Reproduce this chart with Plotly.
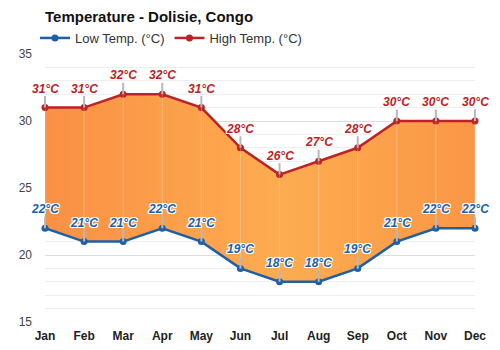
import plotly.graph_objects as go

months = ["Jan", "Feb", "Mar", "Apr", "May", "Jun", "Jul", "Aug", "Sep", "Oct", "Nov", "Dec"]
low_temp = [22, 21, 21, 22, 21, 19, 18, 18, 19, 21, 22, 22]
high_temp = [31, 31, 32, 32, 31, 28, 26, 27, 28, 30, 30, 30]
y_ticks = [15, 20, 25, 30, 35]

LOW_COLOR = "#1f5fa6"
HIGH_COLOR = "#bd2226"
FONT = "Liberation Sans, Arial, sans-serif"

x_idx = list(range(len(months)))

fig = go.Figure()

# light month dividers inside the band between low and high
seg_x, seg_y = [], []
for i, lo, hi in zip(x_idx, low_temp, high_temp):
    seg_x += [i, i, None]
    seg_y += [lo, hi, None]

fig.add_trace(go.Scatter(
    x=x_idx, y=low_temp, mode="lines+markers", name="Low Temp. (°C)",
    line=dict(color=LOW_COLOR, width=2.5),
    marker=dict(color=LOW_COLOR, size=7),
    cliponaxis=False, hoverinfo="skip", showlegend=False,
))
fig.add_trace(go.Scatter(
    x=x_idx, y=high_temp, mode="lines+markers", name="High Temp. (°C)",
    line=dict(color=HIGH_COLOR, width=2.5),
    marker=dict(color=HIGH_COLOR, size=7),
    fill="tonexty",
    fillgradient=dict(type="horizontal",
                      colorscale=[[0, "#fa9044"], [0.55, "#fdac50"], [1, "#fa9646"]]),
    cliponaxis=False, hoverinfo="skip", showlegend=False,
))
fig.add_trace(go.Scatter(
    x=seg_x, y=seg_y, mode="lines", showlegend=False,
    line=dict(color="rgba(255,255,255,0.25)", width=1),
    hoverinfo="skip",
))

# legend entries (line + marker only)
for name, color in (("Low Temp. (°C)", LOW_COLOR), ("High Temp. (°C)", HIGH_COLOR)):
    fig.add_trace(go.Scatter(
        x=[None], y=[None], mode="lines+markers", name=name,
        line=dict(color=color, width=2.5), marker=dict(color=color, size=7),
    ))

halo = ("1px 1px 0 #fff, -1px -1px 0 #fff, 1px -1px 0 #fff, -1px 1px 0 #fff, "
        "0 1px 0 #fff, 0 -1px 0 #fff, 1px 0 0 #fff, -1px 0 0 #fff")

annotations = []
for vals, color in ((high_temp, HIGH_COLOR), (low_temp, LOW_COLOR)):
    for i, v in zip(x_idx, vals):
        annotations.append(dict(
            x=i, y=v, xref="x", yref="y", text=f"{v}°C",
            showarrow=True, arrowhead=0, arrowwidth=2, arrowcolor="#b8b8b8",
            ax=0, ay=-19, standoff=0, borderpad=0,
            font=dict(family=FONT, size=12, color=color, weight="bold",
                      style="italic", shadow=halo),
        ))

fig.update_layout(
    width=500, height=350,
    margin=dict(l=45, r=25, t=54, b=28, autoexpand=False),
    paper_bgcolor="white", plot_bgcolor="white",
    title=dict(text="<b>Temperature - Dolisie, Congo</b>", x=45 / 500, xanchor="left",
               y=1 - 17 / 350, yanchor="middle",
               font=dict(family=FONT, size=15, color="#111")),
    legend=dict(orientation="h", x=35 / 500, xanchor="left", xref="container",
                y=1 - 38 / 350, yanchor="middle", yref="container",
                font=dict(family=FONT, size=13, color="#333"),
                itemwidth=30, traceorder="normal", tracegroupgap=0),
    showlegend=True,
    annotations=annotations,
    xaxis=dict(range=[0, 11], tickvals=x_idx, ticktext=months, showgrid=False,
               zeroline=False, showline=False, ticks="", ticklabelstandoff=5,
               tickfont=dict(family=FONT, size=12, color="#222", weight="bold")),
    yaxis=dict(range=[15, 35], tickvals=y_ticks, showgrid=True, gridcolor="#dddddd",
               gridwidth=1, zeroline=False, showline=False, ticks="",
               ticklabelstandoff=12,
               minor=dict(dtick=1, showgrid=True, gridcolor="#eeeeee", gridwidth=1),
               tickfont=dict(family=FONT, size=12, color="#444")),
    hovermode=False,
)

fig.write_html("out.html")
